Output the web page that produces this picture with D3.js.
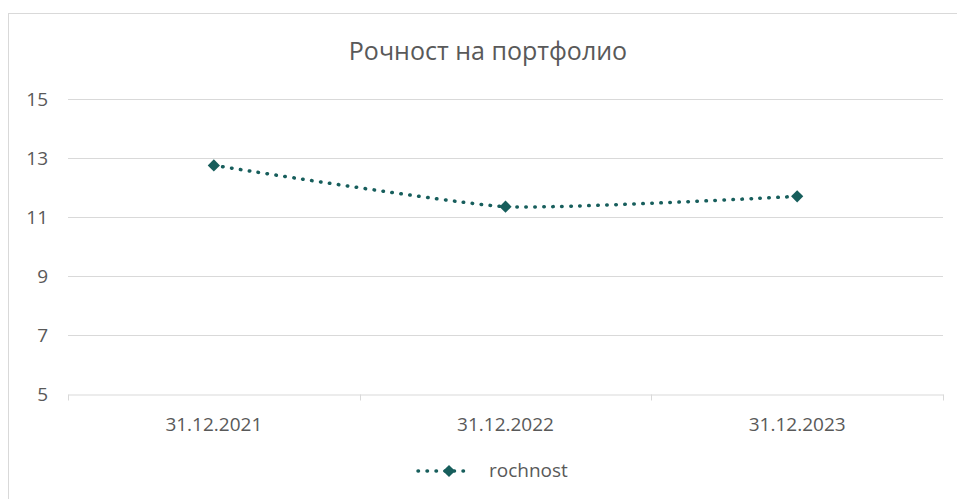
<!DOCTYPE html>
<html>
<head>
<meta charset="utf-8">
<script src="https://cdn.jsdelivr.net/npm/d3@7"></script>
<style>
  body { margin: 0; background: #fff; }
  text { font-family: "Open Sans", "Noto Sans", sans-serif; fill: #595959; }
</style>
</head>
<body>
<div class="viz"></div>
<script>
const categories = ['31.12.2021', '31.12.2022', '31.12.2023']
const rochnost = [12.75, 11.35, 11.7]
const yTicks = [5, 7, 9, 11, 13, 15]
const seriesName = 'rochnost'
const title = 'Рочност на портфолио'

const width = 957, height = 499
const color = '#175e5c'
const grid = '#d9d9d9'
const m = { left: 68, right: 14, top: 99, bottom: 105 }

const svg = d3.select('.viz')
  .append('svg')
    .attr('width', width)
    .attr('height', height)

// chart frame
svg.append('rect')
  .attr('x', 8.5).attr('y', 13.5)
  .attr('width', 980).attr('height', 520)
  .attr('fill', 'none')
  .attr('stroke', grid)

svg.append('text')
  .attr('x', 488).attr('y', 60)
  .attr('text-anchor', 'middle')
  .attr('font-size', 25)
  .text(title)

const x = d3.scaleBand().domain(categories).range([m.left, width - m.right])
const y = d3.scaleLinear().domain([5, 15]).range([height - m.bottom, m.top])

// gridlines
svg.append('g')
  .selectAll('line')
  .data(yTicks.slice(1)).enter().append('line')
    .attr('x1', m.left).attr('x2', width - m.right)
    .attr('y1', d => Math.round(y(d)) + 0.5).attr('y2', d => Math.round(y(d)) + 0.5)
    .attr('stroke', grid)

// y labels
svg.append('g')
  .selectAll('text')
  .data(yTicks).enter().append('text')
    .attr('x', 48)
    .attr('y', d => y(d) + 7)
    .attr('text-anchor', 'end')
    .attr('font-size', 19)
    .text(d => d)

// x axis
const xAxis = svg.append('g')
  .attr('transform', `translate(0, ${Math.round(y(5)) + 0.5})`)
  .call(d3.axisBottom(x).tickSize(0))
xAxis.select('.domain').attr('stroke', grid)
xAxis.selectAll('text')
  .attr('y', 36)
  .attr('dy', null)
  .attr('font-size', 19)
  .attr('fill', '#595959')
  .attr('font-family', '"Open Sans", "Noto Sans", sans-serif')
xAxis.selectAll('.sep')
  .data(d3.range(categories.length + 1)).enter().append('line')
    .attr('class', 'sep')
    .attr('x1', i => Math.round(m.left + i * x.step()) + 0.5)
    .attr('x2', i => Math.round(m.left + i * x.step()) + 0.5)
    .attr('y1', 0).attr('y2', 6)
    .attr('stroke', grid)

// series line (smoothed, round dots)
const pts = categories.map((c, i) => [x(c) + x.bandwidth() / 2, y(rochnost[i])])
svg.append('path')
  .attr('d', d3.line().curve(d3.curveCardinal.tension(0.5))(pts))
  .attr('fill', 'none')
  .attr('stroke', color)
  .attr('stroke-width', 3.5)
  .attr('stroke-linecap', 'round')
  .attr('stroke-dasharray', '0.5 8.5')

const diamond = d3.symbol().type(d3.symbolDiamond2).size(95)
svg.append('g')
  .selectAll('path')
  .data(pts).enter().append('path')
    .attr('d', diamond)
    .attr('transform', d => `translate(${d[0]}, ${d[1]})`)
    .attr('fill', color)

// legend
const lg = svg.append('g').attr('transform', 'translate(418, 471)')
lg.append('line')
  .attr('x1', 0).attr('x2', 54)
  .attr('stroke', color)
  .attr('stroke-width', 3.5)
  .attr('stroke-linecap', 'round')
  .attr('stroke-dasharray', '0.5 8.5')
lg.append('path')
  .attr('d', d3.symbol().type(d3.symbolDiamond2).size(95))
  .attr('transform', 'translate(31, 0)')
  .attr('fill', color)
lg.append('text')
  .attr('x', 71).attr('y', 6)
  .attr('font-size', 19)
  .text(seriesName)
</script>
</body>
</html>
